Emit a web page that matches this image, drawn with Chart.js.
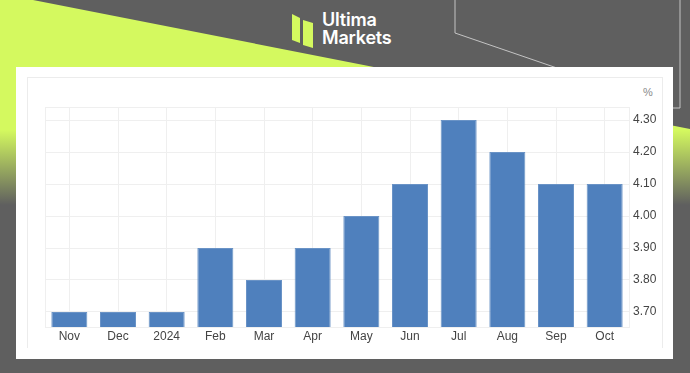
<!DOCTYPE html>
<html>
<head>
<meta charset="utf-8">
<script src="https://cdn.jsdelivr.net/npm/chart.js@4"></script>
<style>
  html, body { margin: 0; padding: 0; }
  body { width: 690px; height: 373px; position: relative; overflow: hidden; background: #5f5f5f; font-family: "Liberation Sans", Arial, sans-serif; }
  #bg { position: absolute; left: 0; top: 0; }
  .logo { position: absolute; left: 322px; top: 11px; color: #fff; font-family: Inter, "Noto Sans", sans-serif; font-weight: 600; font-size: 18px; line-height: 18px; letter-spacing: -0.2px; }
  .panel { position: absolute; left: 16px; top: 67px; width: 657px; height: 292px; background: #fff; }
  .frame { position: absolute; left: 27px; top: 77px; width: 634px; height: 270px; border: 1px solid #ececec; border-bottom: none; }
  .wrap { position: absolute; left: 27px; top: 77px; width: 635px; height: 271px; }
  .unit { position: absolute; left: 643px; top: 86px; font-size: 11px; color: #8a8a8a; }
</style>
</head>
<body>
<svg id="bg" width="690" height="373">
  <defs>
    <linearGradient id="lime" gradientUnits="userSpaceOnUse" x1="0" y1="130" x2="0" y2="205">
      <stop offset="0" stop-color="#d4f95f"/>
      <stop offset="1" stop-color="#5f5f5f"/>
    </linearGradient>
  </defs>
  <polygon points="0,0 33,0 690,129 690,373 0,373" fill="url(#lime)"/>
  <polyline points="455,0 455,33 557,68" fill="none" stroke="#c4c4c4" stroke-width="1"/>
  <polyline points="680,0 680,108 672,108" fill="none" stroke="#c4c4c4" stroke-width="1"/>
  <polygon points="292,14 300,18 300,43 292,40" fill="#d4f95f"/>
  <polygon points="303,20 313,23 313,48 303,45" fill="#d4f95f"/>
</svg>
<div class="logo">Ultima<br>Markets</div>
<div class="panel"></div>
<div class="frame"></div>
<div class="unit">%</div>
<div class="wrap"><canvas id="rate" width="635" height="271"></canvas></div>
<script>
const labels = ["Nov", "Dec", "2024", "Feb", "Mar", "Apr", "May", "Jun", "Jul", "Aug", "Sep", "Oct"];
const values = [3.7, 3.7, 3.7, 3.9, 3.8, 3.9, 4.0, 4.1, 4.3, 4.2, 4.1, 4.1];

const gridColor = "#efefef";

// outline of the plot area (top and left edge)
const areaBox = {
  id: "areaBox",
  beforeDatasetsDraw(chart) {
    const { ctx, chartArea: a } = chart;
    ctx.save();
    ctx.strokeStyle = gridColor;
    ctx.lineWidth = 1;
    ctx.strokeRect(Math.round(a.left) + 0.5, Math.round(a.top) + 0.5, a.right - a.left, a.bottom - a.top);
    ctx.restore();
  }
};

const config = {
  type: "bar",
  data: {
    labels: labels,
    datasets: [
      {
        data: values,
        backgroundColor: "#4f80bd",
        borderColor: "#6a93c6",
        borderWidth: 1,
        barPercentage: 0.74,
        categoryPercentage: 1,
      },
    ],
  },
  options: {
    responsive: false,
    animation: false,
    layout: { padding: { left: 18, top: 30, right: 0, bottom: 0 } },
    plugins: { legend: { display: false }, tooltip: { enabled: false } },
    scales: {
      x: {
        offset: true,
        grid: { offset: false, color: gridColor, drawTicks: false },
        border: { color: "#e2e2e2" },
        ticks: { color: "#444", font: { family: "Liberation Sans", size: 12 }, padding: 2, maxRotation: 0 },
        afterFit(s) { s.height = 21; },
      },
      y: {
        position: "right",
        min: 3.653,
        max: 4.341,
        grid: { color: gridColor, drawTicks: false },
        border: { color: "#e6e6e6" },
        ticks: {
          stepSize: 0.1,
          includeBounds: false,
          color: "#444",
          font: { family: "Liberation Sans", size: 12 },
          padding: 4,
          callback: (v) => v.toFixed(2),
        },
        afterFit(s) { s.width = 33; },
      },
    },
  },
  plugins: [areaBox],
};

new Chart(document.getElementById("rate"), config);
</script>
</body>
</html>
